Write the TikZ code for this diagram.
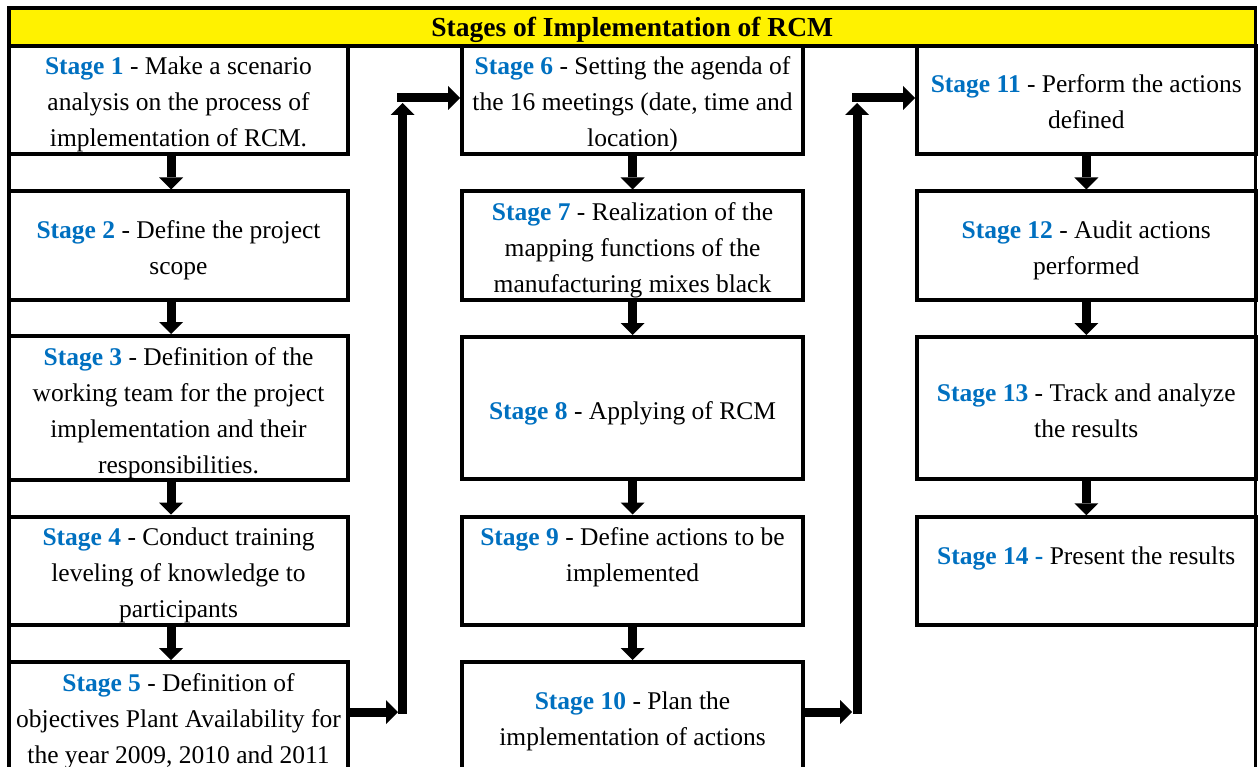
\documentclass[tikz,border=0pt]{standalone}
\usepackage{fontspec}
\setmainfont{Liberation Serif}
\usetikzlibrary{arrows.meta}
\definecolor{stageblue}{RGB}{0,112,192}
\newcommand\stg[1]{\textcolor{stageblue}{\textbf{Stage #1}}}
\newcommand\lst{\rule[-7pt]{0pt}{36pt}}
\begin{document}
\begin{tikzpicture}[x=1pt,y=-1pt,
  box/.style={draw, line width=4pt, align=center, inner sep=0pt, font=\fontsize{25.5}{36}\selectfont},
  lbox/.style={box, minimum width=339pt},
  mbox/.style={box, minimum width=341pt},
  rbox/.style={box, minimum width=338.5pt},
  arr/.style={line width=9pt, -{Triangle[width=24pt,length=12pt,line width=0pt]}},
  frame/.style={draw, line width=3.5pt},
  banner/.style={draw, line width=3.5pt, fill=yellow, inner sep=0pt, font=\fontsize{27.5}{33}\selectfont\bfseries, text height=20pt, text depth=0pt}]
\useasboundingbox (0,0) rectangle (1258,767);
\clip (0,0) rectangle (1258,767);
\draw[frame] (9,8) rectangle (1255.5,800);
\node[banner, minimum width=1246.5pt, minimum height=38pt] (title) at (632.25,27) {Stages of Implementation of RCM};
% left column
\node[lbox, minimum height=108pt] (s1) at (178.5,100) {\lst\stg{1} - Make a scenario\\\lst analysis on the process of\\\lst implementation of RCM.};
\node[lbox, minimum height=108.5pt] (s2) at (178.5,245.75) {\lst\stg{2} - Define the project\\\lst scope};
\node[lbox, minimum height=142pt] (s3) at (178.5,408) {\lst\stg{3} - Definition of the\\\lst working team for the project\\\lst implementation and their\\\lst responsibilities.};
\node[lbox, minimum height=107pt] (s4) at (178.5,570.5) {\lst\stg{4} - Conduct training\\\lst leveling of knowledge to\\\lst participants};
\node[lbox, minimum height=108pt] (s5) at (178.5,716) {\lst\stg{5} - Definition of\\\lst objectives Plant Availability for\\\lst the year 2009, 2010 and 2011};
% middle column
\node[mbox, minimum height=108pt] (s6) at (632.5,100) {\lst\stg{6} - Setting the agenda of\\\lst the 16 meetings (date, time and\\\lst location)};
\node[mbox, minimum height=108.5pt] (s7) at (632.5,245.75) {\lst\stg{7} - Realization of the\\\lst mapping functions of the\\\lst manufacturing mixes black};
\node[mbox, minimum height=142pt] (s8) at (632.5,408) {\lst\stg{8} - Applying of RCM};
\node[mbox, minimum height=107pt] (s9) at (632.5,570.5) {\lst\stg{9} - Define actions to be\\\lst implemented\\\lst};
\node[mbox, minimum height=108pt] (s10) at (632.5,716) {\lst\stg{10} - Plan the\\\lst implementation of actions};
% right column
\node[rbox, minimum height=108pt] (s11) at (1086.25,100) {\lst\stg{11} - Perform the actions\\\lst defined};
\node[rbox, minimum height=108.5pt] (s12) at (1086.25,245.75) {\lst\stg{12} - Audit actions\\\lst performed};
\node[rbox, minimum height=142pt] (s13) at (1086.25,408) {\lst\stg{13} - Track and analyze\\\lst the results};
\node[rbox, minimum height=107.5pt] (s14) at (1086.25,571) {\lst\textcolor{stageblue}{\textbf{Stage 14 -}} Present the results\\\lst};
% vertical arrows
\foreach \a/\b in {s1/s2,s2/s3,s3/s4,s4/s5}
  \draw[arr] (\a.south -| 171,0) -- (\b.north -| 171,0);
\foreach \a/\b in {s6/s7,s7/s8,s8/s9,s9/s10,s11/s12,s12/s13,s13/s14}
  \draw[arr] (\a.south) -- (\b.north);
% elbow connectors
\coordinate (la) at (398,712);
\coordinate (lb) at (402.5,714);
\coordinate (lc) at (402.5,103);
\coordinate (ld) at (397,98);
\draw[arr] (s5.east |- la) -- (la);
\draw[arr] (lb) -- (lc);
\draw[arr] (ld) -- (ld -| s6.west);
\coordinate (ra) at (852,712);
\coordinate (rb) at (857,714);
\coordinate (rc) at (857,103);
\coordinate (rd) at (852,98);
\draw[arr] (s10.east |- ra) -- (ra);
\draw[arr] (rb) -- (rc);
\draw[arr] (rd) -- (rd -| s11.west);
\end{tikzpicture}
\end{document}
